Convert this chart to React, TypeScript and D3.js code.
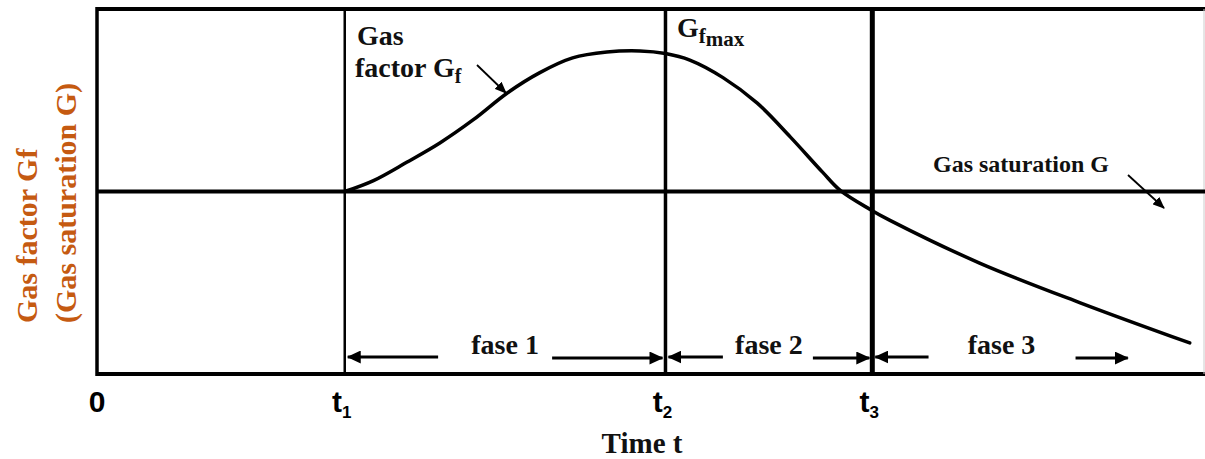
import React from 'react'
import * as d3 from 'd3'

// time axis is in arbitrary units (0..10), value axis 0..1
const curveT = [2.24, 2.5, 2.8, 3.1, 3.4, 3.71, 4.0, 4.3, 4.61, 4.91, 5.14, 5.36, 5.66, 5.97, 6.27, 6.56, 6.72, 6.99, 7.17, 7.98, 8.89, 9.88]
const curveGf = [0.5, 0.53, 0.58, 0.633, 0.696, 0.77, 0.825, 0.866, 0.882, 0.885, 0.878, 0.86, 0.812, 0.742, 0.649, 0.553, 0.503, 0.451, 0.421, 0.304, 0.195, 0.085]
const gasSaturation = 0.5
const tickTimes = [0, 2.24, 5.14, 7.01]
const tickBase = ['0', 't', 't', 't']
const tickSub = ['', '1', '2', '3']
const phaseLabels = ['fase 1', 'fase 2', 'fase 3']
const phaseStart = [2.24, 5.14, 7.01]
const phaseEnd = [5.14, 7.01, 9.32]

const W = 1205
const H = 459
const serif = '"Liberation Serif", "Times New Roman", serif'
const sans = '"Liberation Sans", Arial, sans-serif'

export default function App() {
    const x = d3.scaleLinear().domain([0, 10]).range([97, 1203])
    const y = d3.scaleLinear().domain([0, 1]).range([374, 9])

    const line = d3.line<number>()
        .x((d, i) => x(curveT[i]))
        .y(d => y(d))
        .curve(d3.curveCatmullRom.alpha(0.5))

    const tWidths = [2.5, 3.5, 5]
    // gaps between the phase text and its arrows (left, right)
    const gaps = [[30, 10], [9, 7], [36, 37]]
    const arrowY = 357

    return (
        <svg width={W} height={H} style={{ position: 'absolute', left: 0, top: 0, background: '#fff' }}>
            <defs>
                <marker id="head" markerUnits="userSpaceOnUse" markerWidth={14} markerHeight={13}
                    refX={13} refY={6.5} orient="auto">
                    <path d="M0,0 L14,6.5 L0,13 z" fill="#000" />
                </marker>
                <marker id="small" markerUnits="userSpaceOnUse" markerWidth={12} markerHeight={10}
                    refX={11} refY={5} orient="auto">
                    <path d="M0,0 L12,5 L0,10 z" fill="#000" />
                </marker>
            </defs>

            {/* frame */}
            <line x1={x(0)} x2={W} y1={y(1)} y2={y(1)} stroke="#000" strokeWidth={4} />
            <line x1={x(0)} x2={W} y1={y(0)} y2={y(0)} stroke="#000" strokeWidth={4} />
            <line x1={x(0)} x2={x(0)} y1={y(1) - 2} y2={y(0) + 2} stroke="#000" strokeWidth={3.5} />
            <line x1={W - 1} x2={W - 1} y1={y(1)} y2={y(0)} stroke="#ccc" strokeWidth={1} />

            {/* gas saturation level */}
            <line x1={x(0)} x2={W} y1={y(gasSaturation)} y2={y(gasSaturation)} stroke="#000" strokeWidth={4} />

            {/* phase boundaries */}
            {tickTimes.slice(1).map((t, i) => (
                <line key={i} x1={x(t)} x2={x(t)} y1={y(1)} y2={y(0) + 2} stroke="#000" strokeWidth={tWidths[i]} />
            ))}

            {/* gas factor curve */}
            <path d={line(curveGf) || ''} fill="none" stroke="#000" strokeWidth={3.5} strokeLinecap="round" />

            {/* phase arrows + labels */}
            {phaseLabels.map((lab, i) => {
                const x0 = x(phaseStart[i]) + 3
                const x1 = x(phaseEnd[i]) - (i < 2 ? 3 : 0)
                const cx = (x0 + x1) / 2
                const tw = 74
                return (
                    <g key={lab}>
                        <line x1={cx - tw / 2 - gaps[i][0]} x2={x0} y1={arrowY} y2={arrowY}
                            stroke="#000" strokeWidth={3} markerEnd="url(#head)" />
                        <line x1={cx + tw / 2 + gaps[i][1]} x2={x1} y1={arrowY + 1} y2={arrowY + 1}
                            stroke="#000" strokeWidth={3} markerEnd="url(#head)" />
                        <text x={cx} y={354} textAnchor="middle" fontFamily={serif} fontWeight="bold"
                            fontSize={28} fill="#111">{lab}</text>
                    </g>
                )
            })}

            {/* annotations */}
            <text x={357} y={45} fontFamily={serif} fontWeight="bold" fontSize={28} fill="#111">Gas</text>
            <text x={355} y={77} fontFamily={serif} fontWeight="bold" fontSize={28} fill="#111">
                factor G<tspan fontSize={20} dy={6}>f</tspan>
            </text>
            <line x1={477} y1={65} x2={506} y2={93} stroke="#000" strokeWidth={1.8} markerEnd="url(#small)" />

            <text x={677} y={37} fontFamily={serif} fontWeight="bold" fontSize={28} fill="#111">
                G<tspan fontSize={21} dy={6}>f</tspan><tspan fontSize={21} dy={3}>max</tspan>
            </text>

            <text x={933} y={172} fontFamily={serif} fontWeight="bold" fontSize={24} fill="#111">Gas saturation G</text>
            <line x1={1128} y1={175} x2={1164} y2={208} stroke="#000" strokeWidth={1.8} markerEnd="url(#small)" />

            {/* time axis labels */}
            {tickTimes.map((t, i) => (
                <text key={i} x={x(t) - (i === 0 ? 0 : 3)} y={412} textAnchor="middle" fontFamily={sans}
                    fontWeight="bold" fontSize={30} fill="#000">
                    {tickBase[i]}{tickSub[i] && <tspan fontSize={17} dy={6}>{tickSub[i]}</tspan>}
                </text>
            ))}
            <text x={642} y={453} textAnchor="middle" fontFamily={serif} fontWeight="bold" fontSize={29} fill="#111">Time t</text>

            {/* value axis label */}
            <g transform="translate(37,323) rotate(-90)">
                <text x={0} y={0} fontFamily={serif} fontWeight="bold" fontSize={30} fill="#c55a11">Gas factor Gf</text>
                <text x={0} y={39} fontFamily={serif} fontWeight="bold" fontSize={30} fill="#c55a11">(Gas saturation G)</text>
            </g>
        </svg>
    )
}
